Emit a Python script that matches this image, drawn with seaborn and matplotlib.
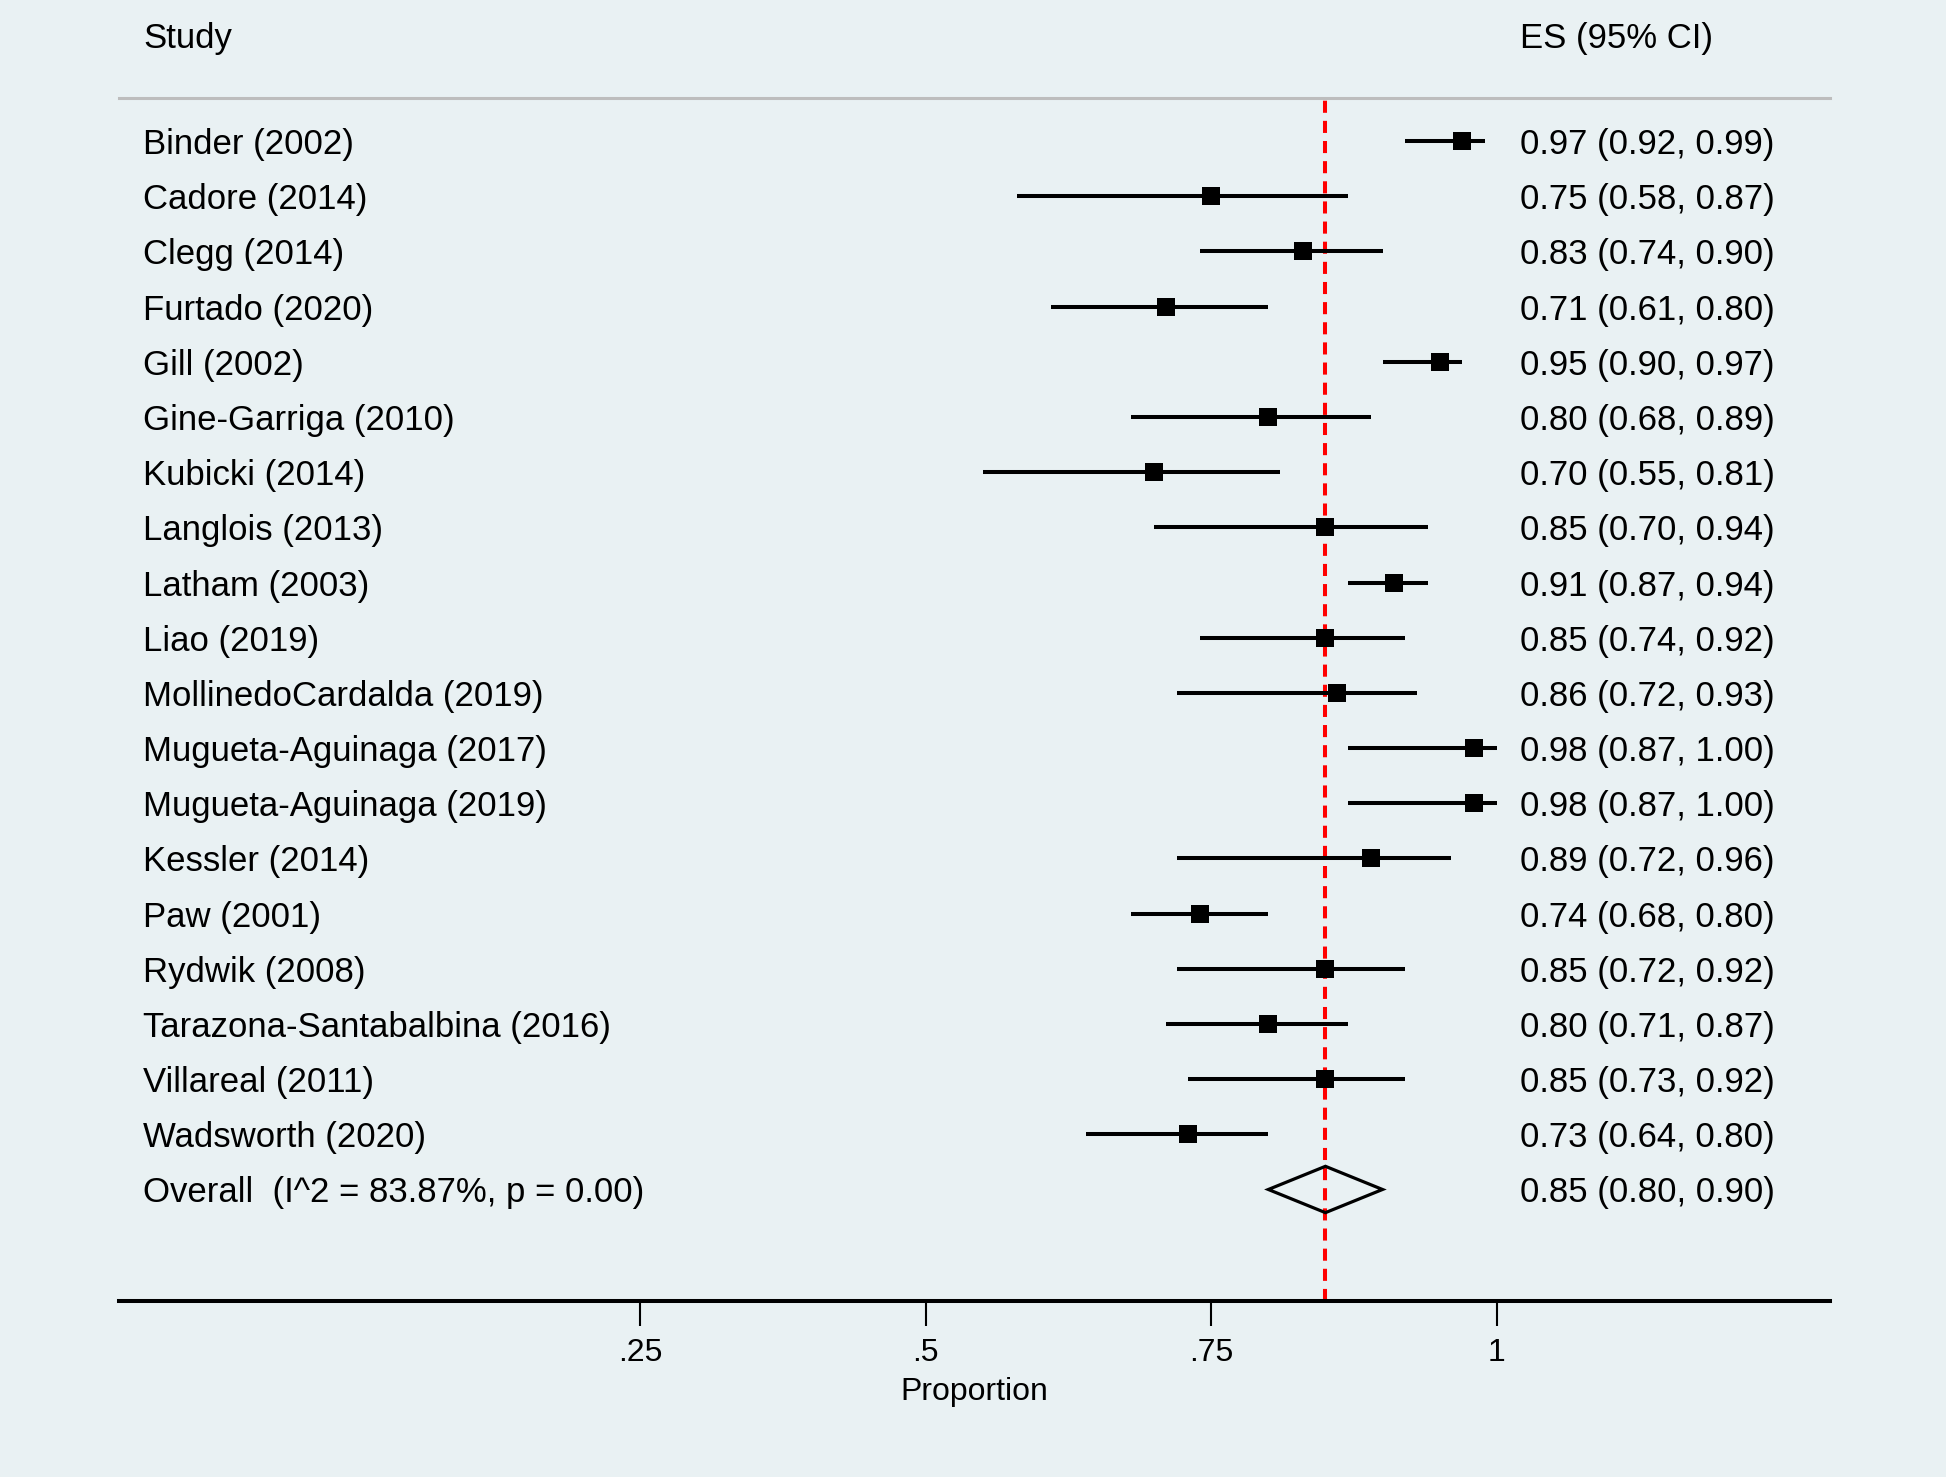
import numpy as np
import pandas as pd
import matplotlib
matplotlib.use("Agg")
import matplotlib.pyplot as plt
import seaborn as sns

# study data
studies = ["Binder (2002)", "Cadore (2014)", "Clegg (2014)", "Furtado (2020)",
           "Gill (2002)", "Gine-Garriga (2010)", "Kubicki (2014)", "Langlois (2013)",
           "Latham (2003)", "Liao (2019)", "MollinedoCardalda (2019)",
           "Mugueta-Aguinaga (2017)", "Mugueta-Aguinaga (2019)", "Kessler (2014)",
           "Paw (2001)", "Rydwik (2008)", "Tarazona-Santabalbina (2016)",
           "Villareal (2011)", "Wadsworth (2020)"]
es = [0.97, 0.75, 0.83, 0.71, 0.95, 0.80, 0.70, 0.85, 0.91, 0.85, 0.86,
      0.98, 0.98, 0.89, 0.74, 0.85, 0.80, 0.85, 0.73]
lo = [0.92, 0.58, 0.74, 0.61, 0.90, 0.68, 0.55, 0.70, 0.87, 0.74, 0.72,
      0.87, 0.87, 0.72, 0.68, 0.72, 0.71, 0.73, 0.64]
hi = [0.99, 0.87, 0.90, 0.80, 0.97, 0.89, 0.81, 0.94, 0.94, 0.92, 0.93,
      1.00, 1.00, 0.96, 0.80, 0.92, 0.87, 0.92, 0.80]

overall_label = "Overall  (I^2 = 83.87%, p = 0.00)"
overall_es, overall_lo, overall_hi = 0.85, 0.80, 0.90

xticks = [0.25, 0.5, 0.75, 1.0]
xticklabels = [".25", ".5", ".75", "1"]

df = pd.DataFrame({"study": studies, "es": es, "lo": lo, "hi": hi})
df["row"] = np.arange(len(df))
overall_row = len(df)

bg = "#E9F1F3"
sns.set_theme(style="white")
plt.rcParams["font.family"] = ["Liberation Sans", "DejaVu Sans"]
plt.rcParams["text.color"] = "black"
plt.rcParams["xtick.color"] = "black"
plt.rcParams["axes.labelcolor"] = "black"

fig = plt.figure(figsize=(19.46, 14.77), dpi=100, facecolor=bg)
ax = fig.add_axes([0.0612, 0.1192, 0.8792, 0.8144])
ax.set_facecolor(bg)

# reference line at the pooled estimate
ax.axvline(overall_es, color="#FF0000", lw=2.9, dashes=(3.0, 2.0), zorder=1)

# confidence intervals and point estimates
ax.hlines(df["row"], df["lo"], df["hi"], color="black", lw=2.9, zorder=2)
sns.scatterplot(data=df, x="es", y="row", marker="s", s=150, color="black",
                edgecolor="black", linewidth=0, ax=ax, zorder=3)

# pooled diamond
h = 0.42
ax.fill([overall_lo, overall_es, overall_hi, overall_es],
        [overall_row, overall_row - h, overall_row, overall_row + h],
        facecolor="none", edgecolor="black", lw=2.3, zorder=3)

ax.set_xlim(-0.2067, 1.292)
ax.set_ylim(21.02, -0.78)

# text columns
fs = 25
lab_x, es_x = -0.1857, 1.0205
va = "center_baseline"
for r, s, e, l, u in zip(df["row"], studies, es, lo, hi):
    ax.text(lab_x, r, s, fontsize=fs, va=va, ha="left")
    ax.text(es_x, r, f"{e:.2f} ({l:.2f}, {u:.2f})", fontsize=fs, va=va, ha="left")
ax.text(lab_x, overall_row, overall_label, fontsize=fs, va=va, ha="left")
ax.text(es_x, overall_row, f"{overall_es:.2f} ({overall_lo:.2f}, {overall_hi:.2f})",
        fontsize=fs, va=va, ha="left")
ax.text(lab_x, -1.92, "Study", fontsize=fs, va=va, ha="left", clip_on=False)
ax.text(es_x, -1.92, "ES (95% CI)", fontsize=fs, va=va, ha="left", clip_on=False)

# axes styling
for side in ["left", "right"]:
    ax.spines[side].set_visible(False)
ax.spines["top"].set_color("#BDBDBD")
ax.spines["top"].set_linewidth(2.2)
ax.spines["bottom"].set_color("black")
ax.spines["bottom"].set_linewidth(2.9)
ax.set_yticks([])
ax.set_ylabel("")
ax.set_xticks(xticks)
ax.set_xticklabels(xticklabels)
ax.tick_params(axis="x", bottom=True, length=18, width=1.5, color="black",
               pad=9, labelsize=23)
ax.set_xlabel("Proportion", fontsize=23)
ax.xaxis.set_label_coords(0.5, -0.063)

fig.savefig("out.png", dpi=100, facecolor=bg)
